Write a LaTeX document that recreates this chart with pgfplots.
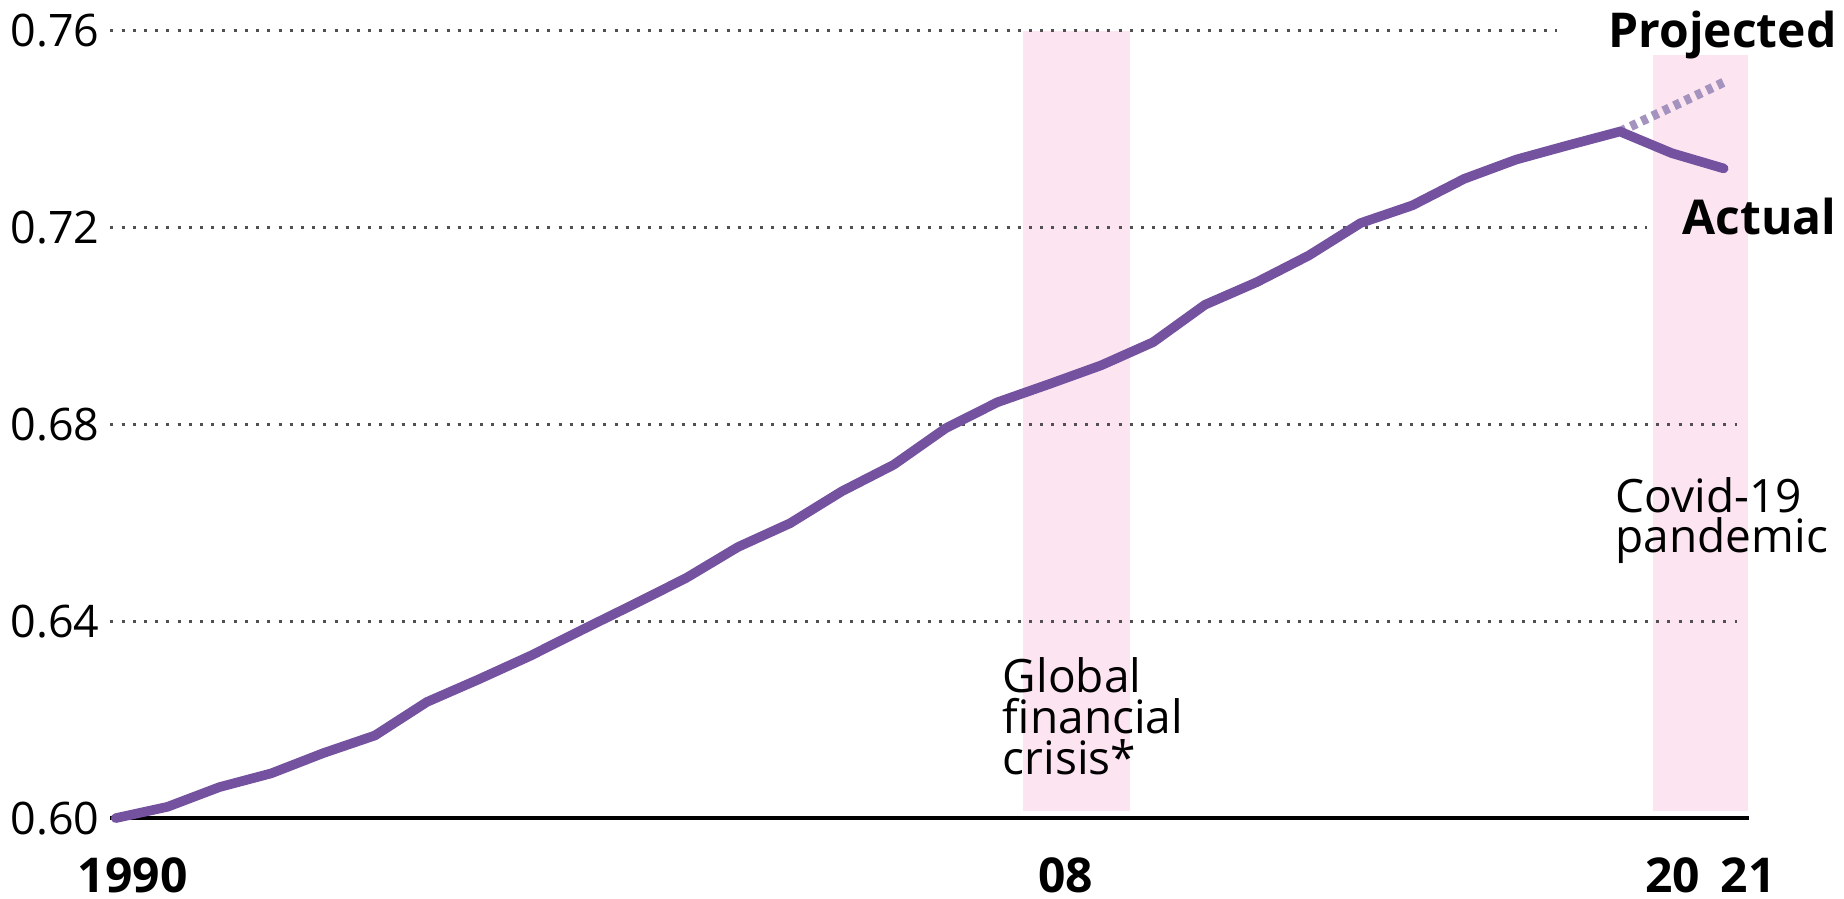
\documentclass[border=0pt]{standalone}
\usepackage{pgfplots}
\pgfplotsset{compat=1.18}
\usepackage{pgfplotstable}
\usepackage{fontspec}
\setmainfont{Open Sans}

\definecolor{lineviolet}{HTML}{7452A0}
\definecolor{projviolet}{HTML}{A493BF}
\definecolor{bandpink}{HTML}{FCE4F0}
\definecolor{gridgray}{HTML}{505050}

% Annual values of the index
\pgfplotstableread{
year value
1990 0.6000
1991 0.6023
1992 0.6063
1993 0.6091
1994 0.6132
1995 0.6168
1996 0.6236
1997 0.6282
1998 0.6330
1999 0.6383
2000 0.6435
2001 0.6488
2002 0.6551
2003 0.6599
2004 0.6664
2005 0.6718
2006 0.6792
2007 0.6845
2008 0.6882
2009 0.6920
2010 0.6967
2011 0.7043
2012 0.7089
2013 0.7143
2014 0.7209
2015 0.7245
2016 0.7299
2017 0.7338
2018 0.7367
2019 0.7395
2020 0.7351
2021 0.7320
}\actualdata

% Pre-pandemic trend carried forward
\pgfplotstableread{
year value
2019 0.7395
2021 0.7495
}\projdata

\pgfplotsset{
  gridline/.style={gridgray, line width=0.75bp, dash pattern=on 0.75bp off 2.05bp, forget plot},
}
\tikzset{
  noteFont/.style={font=\fontsize{11.5bp}{10.25bp}\selectfont},
}

\begin{document}
\begin{tikzpicture}
\begin{axis}[
  scale only axis, width=409.6bp, height=196.85bp,
  xmin=1989.9, xmax=2021.49, ymin=0.60, ymax=0.76,
  clip=false,
  axis x line=bottom, axis y line=left,
  x axis line style={-, line width=1bp, black},
  y axis line style={draw=none},
  major tick length=0pt,
  xtick={1990.33,2008.31,2020.02,2021.47},
  xticklabels={1990,08,20,21},
  xticklabel style={font=\fontsize{12bp}{14bp}\selectfont\bfseries, anchor=north, inner sep=0pt, yshift=-9.75bp},
  ytick={0.60,0.64,0.68,0.72,0.76},
  yticklabels={0.60,0.64,0.68,0.72,0.76},
  yticklabel style={font=\fontsize{11.2bp}{13bp}\selectfont, anchor=east, inner sep=0pt, xshift=-2.6bp},
]

% shaded periods
\addplot[draw=none, fill=bandpink, forget plot] coordinates {(2007.49,0.6015) (2009.55,0.6015) (2009.55,0.76) (2007.49,0.76)} -- cycle;
\addplot[draw=none, fill=bandpink, forget plot] coordinates {(2019.64,0.6015) (2021.47,0.6015) (2021.47,0.755) (2019.64,0.755)} -- cycle;

% dotted gridlines
\addplot[gridline] coordinates {(1989.9,0.64) (2021.25,0.64)};
\addplot[gridline] coordinates {(1989.9,0.68) (2021.25,0.68)};
\addplot[gridline] coordinates {(1989.9,0.72) (2019.52,0.72)};
\addplot[gridline] coordinates {(1989.9,0.76) (2017.79,0.76)};

% projected and actual series
\addplot[projviolet, line width=2.3bp, dash pattern=on 1.6bp off 1.4bp] table[x=year, y=value] {\projdata};
\addplot[lineviolet, line width=2.4bp, line cap=round, line join=round] table[x=year, y=value] {\actualdata};

% labels
\node[anchor=base east, inner sep=0pt, font=\fontsize{12bp}{14bp}\selectfont\bfseries] at (axis cs:2023.19,0.7565) {Projected};
\node[anchor=base east, inner sep=0pt, font=\fontsize{12bp}{14bp}\selectfont\bfseries] at (axis cs:2023.19,0.7185) {Actual};

\node[anchor=base west, inner sep=0pt, noteFont] at (axis cs:2007.09,0.62546) {Global};
\node[anchor=base west, inner sep=0pt, noteFont] at (axis cs:2007.09,0.61713) {financial};
\node[anchor=base west, inner sep=0pt, noteFont] at (axis cs:2007.09,0.6088) {crisis*};

\node[anchor=base west, inner sep=0pt, noteFont] at (axis cs:2018.90,0.66218) {Covid-19};
\node[anchor=base west, inner sep=0pt, noteFont] at (axis cs:2018.90,0.65405) {pandemic};

\coordinate (bbsw) at (axis cs:1987.77,0.58374);
\coordinate (bbne) at (axis cs:2023.32,0.76622);
\end{axis}
\pgfresetboundingbox
\useasboundingbox (bbsw) rectangle (bbne);
\end{tikzpicture}
\end{document}
